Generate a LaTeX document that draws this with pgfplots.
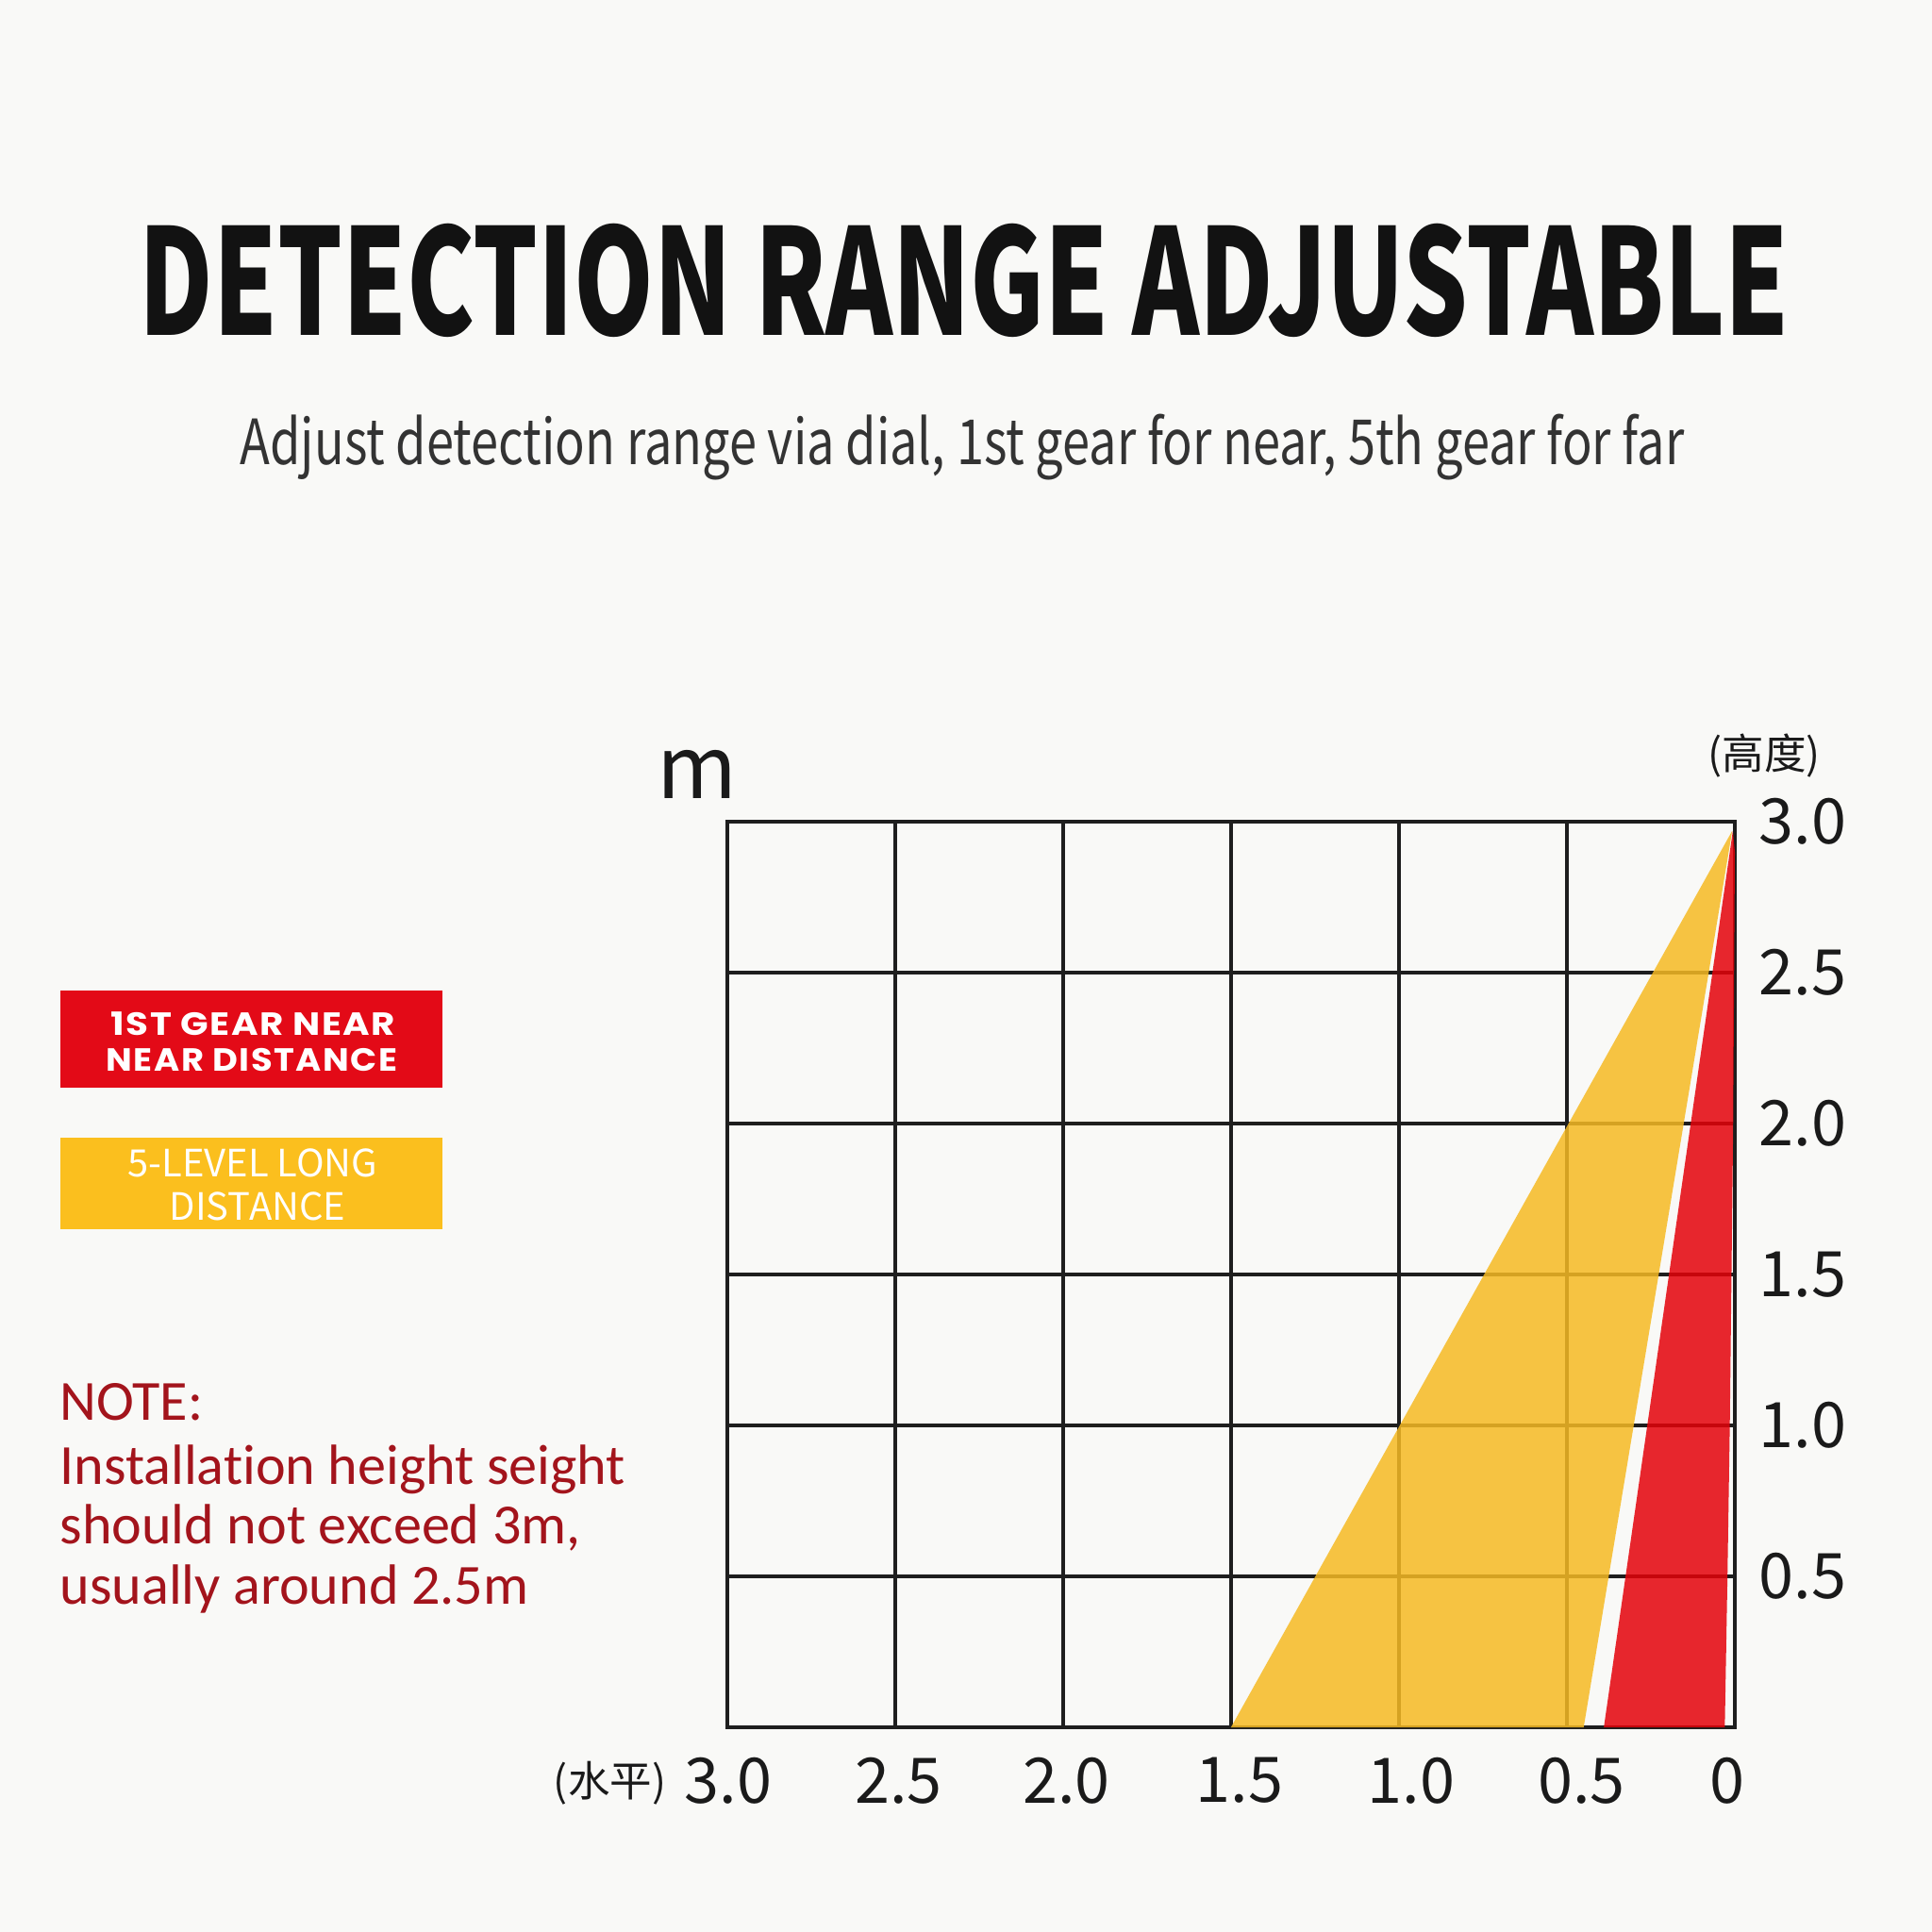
\documentclass[border=0pt]{standalone}
\usepackage{pgfplots}
\pgfplotsset{compat=1.18}
\usepackage{fontspec}
\newfontfamily\cjk{Noto Sans CJK SC}
\newfontfamily\poppins[LetterSpace=4]{Poppins}
\newfontfamily\carlito[Ligatures=NoCommon]{Carlito}

\definecolor{bgc}{HTML}{F9F9F7}
\definecolor{titlec}{HTML}{121212}
\definecolor{subc}{HTML}{333333}
\definecolor{gridc}{HTML}{1E1E1E}
\definecolor{labc}{HTML}{1A1A1A}
\definecolor{boxred}{HTML}{E30A17}
\definecolor{boxyel}{HTML}{FBBF1E}
\definecolor{redf}{HTML}{E4020A}
\definecolor{yelf}{HTML}{F6BA23}
\definecolor{notec}{HTML}{A3141C}

% shift a tick label sideways: positive moves it right
\newcommand{\rs}[2]{\kern#1#2}
\newcommand{\ls}[2]{#2\kern#1}

\begin{document}
\begin{tikzpicture}
% page background
\fill[bgc] (0,0) rectangle (15.68cm,15.68cm);

% titles
\node[anchor=base, inner sep=0pt, text=titlec] at (7.825cm,12.96cm)
  {\resizebox{13.39cm}{\height}{\cjk\bfseries\fontsize{34}{40}\selectfont DETECTION RANGE ADJUSTABLE}};
\node[anchor=base, inner sep=0pt, text=subc] at (7.81cm,11.91cm)
  {\resizebox{11.72cm}{\height}{\cjk\fontsize{14.4}{17}\selectfont Adjust detection range via dial, 1st gear for near, 5th gear for far}};

% legend boxes
\fill[boxred] (0.49cm,6.85cm) rectangle (3.59cm,7.64cm);
\fill[boxyel] (0.49cm,5.70cm) rectangle (3.59cm,6.45cm);
\node[anchor=base, inner sep=0pt, text=white] at (2.055cm,7.28cm)
  {\resizebox{2.31cm}{\height}{\poppins\bfseries\fontsize{7.4}{9}\selectfont 1ST GEAR NEAR}};
\node[anchor=base, inner sep=0pt, text=white] at (2.043cm,6.99cm)
  {\resizebox{2.36cm}{\height}{\poppins\bfseries\fontsize{7.4}{9}\selectfont NEAR DISTANCE}};
\node[anchor=base, inner sep=0pt, text=white] at (2.05cm,6.13cm)
  {\cjk\fontsize{8.7}{10}\selectfont 5-LEVEL LONG};
\node[anchor=base, inner sep=0pt, text=white] at (2.09cm,5.78cm)
  {\cjk\fontsize{8.7}{10}\selectfont DISTANCE};

% note
\begin{scope}[every node/.style={anchor=base west, inner sep=0pt, text=notec,
    font=\carlito\fontsize{13.1}{16}\selectfont}]
\node at (0.48cm,4.15cm) {NOTE:};
\node at (0.48cm,3.63cm) {Installation height seight};
\node at (0.48cm,3.15cm) {should not exceed 3m,};
\node at (0.48cm,2.66cm) {usually around 2.5m};
\end{scope}

% axis annotations
\node[anchor=base, inner sep=0pt, text=labc] at (5.66cm,9.20cm)
  {\cjk\fontsize{20}{24}\selectfont m};
\node[anchor=center, inner sep=0pt, text=labc] at (14.32cm,9.55cm)
  {\cjk\fontsize{9.7}{12}\selectfont (高度)};
\node[anchor=center, inner sep=0pt, text=labc] at (4.95cm,1.21cm)
  {\cjk\fontsize{9.7}{12}\selectfont (水平)};

\begin{axis}[
  at={(5.90cm,1.66cm)}, anchor=south west,
  width=8.18cm, height=7.35cm, scale only axis,
  xmin=0, xmax=3, ymin=0, ymax=3, x dir=reverse,
  xtick={0,0.5,1,1.5,2,2.5,3},
  xticklabels={\ls{0.12cm}{0},\rs{0.24cm}{0.5},\rs{0.20cm}{1.0},\rs{0.14cm}{1.5},
    \rs{0.06cm}{2.0},\rs{0.06cm}{2.5},\rs{0.02cm}{3.0}},
  ytick={0.5,1,1.5,2,2.5,3},
  yticklabels={0.5,1.0,1.5,2.0,2.5,3.0},
  yticklabel pos=right,
  grid=major,
  major grid style={line width=0.9pt, draw=gridc},
  axis line style={line width=0.9pt, draw=gridc},
  major tick length=0pt,
  tick style={draw=none},
  ticklabel style={font=\cjk\fontsize{14.5}{17}\selectfont, text=labc, inner sep=0pt},
  xticklabel style={anchor=center, yshift=-0.43cm},
  yticklabel style={anchor=west, xshift=0.19cm},
]
% 5-level long distance zone
\addplot[draw=none, fill=yelf, fill opacity=0.85]
  coordinates {(0.008,2.97) (1.5,0) (0.45,0)} -- cycle;
% 1st gear near zone
\addplot[draw=none, fill=redf, fill opacity=0.85]
  coordinates {(0.006,2.97) (0.39,0) (0.03,0) (0.022,0.5) (0.015,1.0) (0.005,2.0) (0.0,2.9)} -- cycle;
\end{axis}
\end{tikzpicture}
\end{document}
